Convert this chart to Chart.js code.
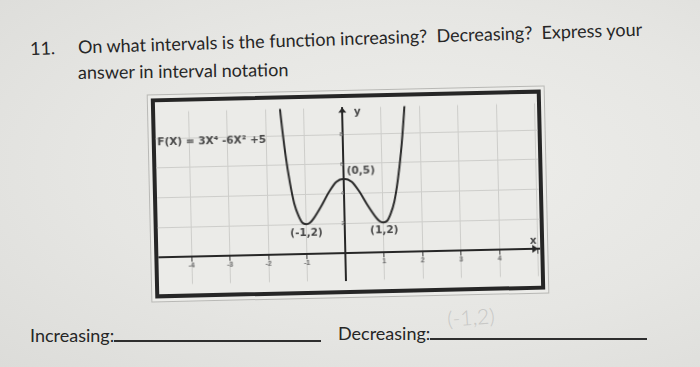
<!DOCTYPE html>
<html>
<head>
<meta charset="utf-8">
<script src="https://cdn.jsdelivr.net/npm/chart.js@4"></script>
<style>
  html, body { margin: 0; padding: 0; }
  body {
    width: 700px; height: 367px; overflow: hidden; position: relative;
    background: radial-gradient(ellipse at 60% 45%, #eeeeeb 0%, #e6e6e3 55%, #dcdcd9 100%);
    font-family: Lato, "Open Sans", sans-serif; color: #262626;
  }
  .txt { position: absolute; white-space: nowrap; font-size: 18px; line-height: 20px; }
  #l1 { left: 30px; top: 38px; transform: rotate(-1.8deg); transform-origin: 0 50%; }
  #l1 .num { display: inline-block; width: 48px; }
  #l2 { left: 78px; top: 62px; transform: rotate(-0.8deg); transform-origin: 0 50%; }
  #box {
    position: absolute; left: 153px; top: 94px; width: 382px; height: 192px;
    border: 4px solid #262626; background: #ebebe8;
    box-shadow: 0 0 0 3px #ecece9, 0 0 0 4px #b8b8b5;
    transform: rotate(-1.3deg);
  }
  #box canvas { display: block; }
  .blank { display: inline-block; border-bottom: 2px solid #2e2e2e; height: 18px; vertical-align: baseline; }
  #pencil { position: absolute; left: 447px; top: 304px; font-size: 21px; font-weight: 300; color: #c8c8c6; transform: rotate(-4deg); }
</style>
</head>
<body>
<div class="txt" id="l1"><span class="num">11.</span>On what intervals is the function increasing?&nbsp; Decreasing?&nbsp; Express your</div>
<div class="txt" id="l2">answer in interval notation</div>
<div id="box"><canvas id="grafico" width="382" height="192"></canvas></div>
<div class="txt" style="left:30px; top:322px;">Increasing:<span class="blank" style="width:207px"></span></div>
<div class="txt" style="left:338px; top:320px;">Decreasing:<span class="blank" style="width:217px"></span></div>
<div id="pencil">(-1,2)</div>
<script>
// points
var curveX = [-1.65, -1.6, -1.5, -1.4, -1.3, -1.2, -1.1, -1, -0.9, -0.8, -0.6, -0.4, -0.2, 0,
  0.2, 0.4, 0.6, 0.8, 0.9, 1, 1.1, 1.2, 1.3, 1.4, 1.5, 1.6, 1.65]
var curveY = [10.9, 9.3, 6.7, 4.8, 3.4, 2.6, 2.1, 2, 2.1, 2.4, 3.2, 4.1, 4.8, 5,
  4.8, 4.1, 3.2, 2.4, 2.1, 2, 2.1, 2.6, 3.4, 4.8, 6.7, 9.3, 10.9]

var xTicks = [-4, -3, -2, -1, 0, 1, 2, 3, 4, 5]
var yTicks = [0, 2, 4, 6, 8]
var xMin = -4.86, xMax = 5.06
var yMin = -1.85, yMax = 9.79

var notas = [
  { texto: 'F(X) = 3X\u2074 -6X\u00b2 +5', x: -4.82, y: 7.75, align: 'left' },
  { texto: '(0,5)', x: 0.08, y: 5.5, align: 'left' },
  { texto: '(-1,2)', x: -1.0, y: 1.4, align: 'center' },
  { texto: '(1,2)', x: 1.02, y: 1.45, align: 'center' },
  { texto: 'y', x: 0.3, y: 9.5, align: 'left' },
  { texto: 'x', x: 4.88, y: 0.5, align: 'center' }
]

var pontos = []
for (var i = 0; i < curveX.length; i++) {
  pontos.push({ x: curveX[i], y: curveY[i] })
}

var extras = {
  id: 'extras',
  afterDatasetsDraw(chart) {
    var ctx = chart.ctx
    var sx = chart.scales.x
    var sy = chart.scales.y
    ctx.save()
    ctx.fillStyle = '#484848'
    ctx.font = 'bold 10.5px "DejaVu Sans", sans-serif'
    ctx.textBaseline = 'middle'
    for (var i = 0; i < notas.length; i++) {
      ctx.textAlign = notas[i].align
      ctx.fillText(notas[i].texto, sx.getPixelForValue(notas[i].x), sy.getPixelForValue(notas[i].y))
    }
    // setas dos eixos
    ctx.fillStyle = '#262626'
    var x0 = sx.getPixelForValue(0)
    var yTop = sy.getPixelForValue(yMax)
    ctx.beginPath()
    ctx.moveTo(x0, yTop)
    ctx.lineTo(x0 - 4, yTop + 5)
    ctx.lineTo(x0 + 4, yTop + 5)
    ctx.fill()
    var y0 = sy.getPixelForValue(0)
    var xRight = sx.getPixelForValue(xMax) - 2
    ctx.beginPath()
    ctx.moveTo(xRight, y0)
    ctx.lineTo(xRight - 6, y0 - 4)
    ctx.lineTo(xRight - 6, y0 + 4)
    ctx.fill()
    ctx.restore()
  }
}

var grafico = new Chart(document.getElementById('grafico'), {
  type: 'line',
  data: {
    datasets: [{
      data: pontos,
      borderColor: '#2a2a2a',
      borderWidth: 2,
      pointRadius: 0,
      cubicInterpolationMode: 'monotone'
    }]
  },
  options: {
    responsive: false,
    animation: false,
    layout: { padding: 0 },
    plugins: { legend: { display: false }, tooltip: { enabled: false } },
    scales: {
      x: {
        type: 'linear',
        min: xMin,
        max: xMax,
        position: { y: 0 },
        afterBuildTicks: s => { s.ticks = xTicks.map(v => ({ value: v })) },
        grid: { color: '#cdcdca', lineWidth: 1, drawTicks: true, tickLength: 4, tickColor: '#333' },
        border: { color: '#262626', width: 2 },
        ticks: {
          font: { size: 7, weight: 'bold' }, color: '#666', padding: 1, maxRotation: 0,
          callback: v => (v == 0 || v == 5) ? '' : v
        }
      },
      y: {
        type: 'linear',
        min: yMin,
        max: yMax,
        position: { x: 0 },
        afterBuildTicks: s => { s.ticks = yTicks.map(v => ({ value: v })) },
        grid: { color: '#cdcdca', lineWidth: 1, drawTicks: false },
        border: { color: '#262626', width: 2 },
        ticks: {
          font: { size: 6, weight: 'bold' }, color: '#777', padding: 6,
          callback: v => v == 0 ? '' : v
        }
      }
    }
  },
  plugins: [extras]
})
</script>
</body>
</html>
